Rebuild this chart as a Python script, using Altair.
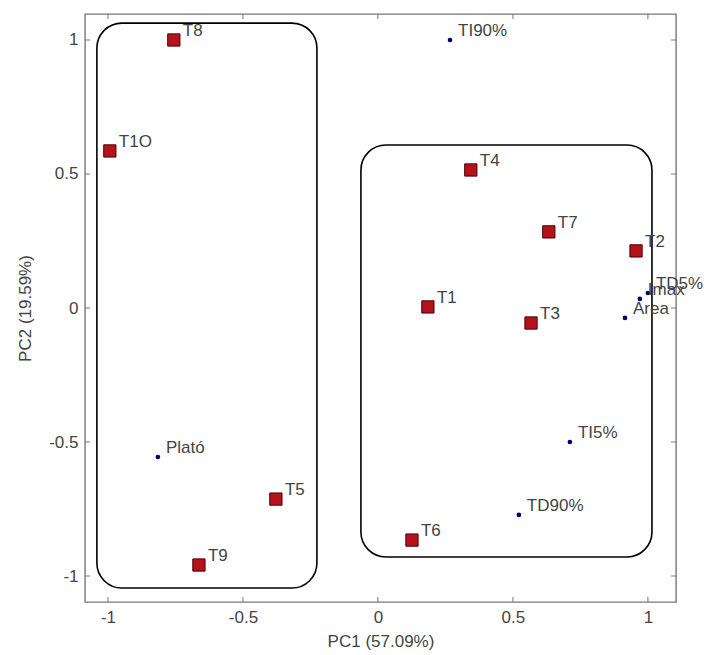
import altair as alt
import pandas as pd

# Sample scores (red squares)
samples = ["T1", "T2", "T3", "T4", "T5", "T6", "T7", "T8", "T9", "T10"]
samples_pc1 = [0.185, 0.956, 0.567, 0.344, -0.378, 0.126, 0.633, -0.756, -0.663, -0.993]
samples_pc2 = [0.004, 0.213, -0.056, 0.515, -0.713, -0.866, 0.284, 1.0, -0.959, 0.586]
sample_labels = ["T1", "T2", "T3", "T4", "T5", "T6", "T7", "T8", "T9", "T1O"]

# Variable loadings (blue dots)
variables = ["TI90%", "Plató", "TI5%", "TD90%", "Area", "Imax", "TD5%"]
var_pc1 = [0.267, -0.815, 0.711, 0.522, 0.915, 0.970, 1.0]
var_pc2 = [1.0, -0.556, -0.5, -0.772, -0.037, 0.034, 0.056]

# Group outlines (rounded boxes)
box_x1 = [-1.041, -0.063]
box_x2 = [-0.226, 1.015]
box_y1 = [1.063, 0.608]
box_y2 = [-1.045, -0.929]

tick_values = [-1, -0.5, 0, 0.5, 1]

W, H = 591, 588
XDOM = [-1.085, 1.104]
YDOM = [-1.097, 1.097]
FONT = "Liberation Sans"

df_s = pd.DataFrame({"pc1": samples_pc1, "pc2": samples_pc2, "label": sample_labels})
df_v = pd.DataFrame({"pc1": var_pc1, "pc2": var_pc2, "label": variables})
df_b = pd.DataFrame({"x1": box_x1, "x2": box_x2, "y1": box_y1, "y2": box_y2})
df_t = pd.DataFrame({"t": tick_values})

xs = alt.Scale(domain=XDOM, nice=False, zero=False)
ys = alt.Scale(domain=YDOM, nice=False, zero=False)

lab_expr = "replace(toString(datum.value), '\u2212', '-')"
x_axis = alt.Axis(values=tick_values, grid=False, domain=False, ticks=False,
                  labelFont=FONT, labelFontSize=17, labelColor="#444444",
                  labelPadding=7, labelExpr=lab_expr,
                  title="PC1 (57.09%)", titleFont=FONT, titleFontSize=17,
                  titleFontWeight="normal", titleColor="#444444", titlePadding=8)
y_axis = alt.Axis(values=tick_values, grid=False, domain=False, ticks=False,
                  labelFont=FONT, labelFontSize=17, labelColor="#444444",
                  labelPadding=7, labelExpr=lab_expr,
                  title="PC2 (19.59%)", titleFont=FONT, titleFontSize=17,
                  titleFontWeight="normal", titleColor="#444444", titlePadding=14)

boxes = alt.Chart(df_b).mark_rect(cornerRadius=25, fillOpacity=0, stroke="black",
                                  strokeWidth=1.6).encode(
    x=alt.X("x1:Q", scale=xs, axis=x_axis),
    x2="x2:Q",
    y=alt.Y("y1:Q", scale=ys, axis=y_axis),
    y2="y2:Q",
)

tick_color = "#777777"
tb = alt.Chart(df_t).mark_rule(color=tick_color).encode(
    x=alt.X("t:Q", scale=xs), y=alt.value(H), y2=alt.value(H - 5))
tt = alt.Chart(df_t).mark_rule(color=tick_color).encode(
    x=alt.X("t:Q", scale=xs), y=alt.value(0), y2=alt.value(5))
tl = alt.Chart(df_t).mark_rule(color=tick_color).encode(
    y=alt.Y("t:Q", scale=ys), x=alt.value(0), x2=alt.value(5))
tr = alt.Chart(df_t).mark_rule(color=tick_color).encode(
    y=alt.Y("t:Q", scale=ys), x=alt.value(W), x2=alt.value(W - 5))

squares = alt.Chart(df_s).mark_square(size=150, color="#b5121b", stroke="#4a0000",
                                      strokeWidth=1, opacity=1).encode(
    x=alt.X("pc1:Q", scale=xs), y=alt.Y("pc2:Q", scale=ys))
s_text = alt.Chart(df_s).mark_text(align="left", baseline="middle", dx=9, dy=-9,
                                   font=FONT, fontSize=17, color="#444444").encode(
    x=alt.X("pc1:Q", scale=xs), y=alt.Y("pc2:Q", scale=ys), text="label:N")

dots = alt.Chart(df_v).mark_circle(size=22, color="#000070", opacity=1).encode(
    x=alt.X("pc1:Q", scale=xs), y=alt.Y("pc2:Q", scale=ys))
v_text = alt.Chart(df_v).mark_text(align="left", baseline="middle", dx=8, dy=-9,
                                   font=FONT, fontSize=17, color="#444444").encode(
    x=alt.X("pc1:Q", scale=xs), y=alt.Y("pc2:Q", scale=ys), text="label:N")

chart = alt.layer(boxes, tb, tt, tl, tr, squares, s_text, dots, v_text).properties(
    width=W, height=H,
    autosize=alt.AutoSizeParams(type="none"),
    padding={"left": 85, "top": 14, "right": 31, "bottom": 53},
    background="white",
).configure_view(stroke="#777777", strokeWidth=1.4)

chart.save("out.html", embed_options={"renderer": "svg", "actions": False})
